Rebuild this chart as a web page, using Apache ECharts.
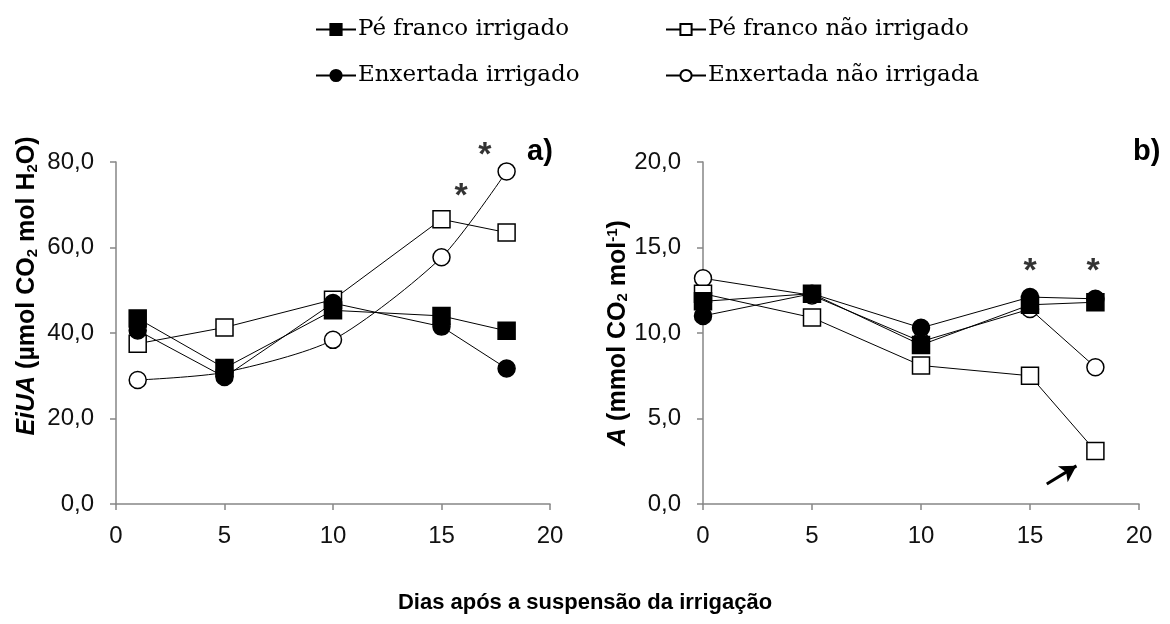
<!DOCTYPE html>
<html>
<head>
<meta charset="utf-8">
<script src="https://cdn.jsdelivr.net/npm/echarts@6/dist/echarts.min.js"></script>
<style>html,body{margin:0;padding:0;background:#fff}#c{width:1170px;height:624px}</style>
</head>
<body>
<div id="c"></div>
<script>
// ---- data ----
const daysA = [1, 5, 10, 15, 18];
const daysB = [0, 5, 10, 15, 18];
const seriesNames = ['Pé franco irrigado', 'Pé franco não irrigado', 'Enxertada irrigado', 'Enxertada não irrigada'];
// a) EiUA
const eiuaPFIrr   = [43.4, 31.8, 45.3, 44.0, 40.5];
const eiuaPFNao   = [37.5, 41.3, 47.8, 66.6, 63.5];
const eiuaEnxIrr  = [40.6, 29.7, 47.0, 41.5, 31.7];
const eiuaEnxNao  = [29.0, 30.8, 38.4, 57.7, 77.8];
// b) A
const aPFIrr  = [11.85, 12.3, 9.3, 11.65, 11.8];
const aPFNao  = [12.3, 10.9, 8.1, 7.5, 3.1];
const aEnxIrr = [11.0, 12.3, 10.3, 12.1, 12.0];
const aEnxNao = [13.2, 12.2, 9.5, 11.4, 8.0];
// annotations
const asterisksA = [[15.9, 73.9], [17.0, 83.6]];
const asterisksB = [[15.0, 14.1], [17.9, 14.1]];
const arrowB = [[15.77, 1.17], [17.13, 2.23]];
// ticks
const xTicks = ['0', '5', '10', '15', '20'];
const yTicksA = ['0,0', '20,0', '40,0', '60,0', '80,0'];
const yTicksB = ['0,0', '5,0', '10,0', '15,0', '20,0'];

const SANS = '"Liberation Sans", Arial, sans-serif';
const SERIF = '"DejaVu Serif", "Liberation Serif", serif';
const styles = [
  {symbol: 'rect', fill: '#000'},
  {symbol: 'rect', fill: '#fff'},
  {symbol: 'circle', fill: '#000'},
  {symbol: 'circle', fill: '#fff'}
];

function zip(xs, ys) { return xs.map((x, i) => [x, ys[i]]); }
function mk(k, xs, ys, gi, smooth, z) {
  return {
    type: 'line', name: seriesNames[k], xAxisIndex: gi, yAxisIndex: gi,
    data: zip(xs, ys), symbol: styles[k].symbol, symbolSize: 17, smooth: smooth || false,
    z: z,
    lineStyle: {color: '#000', width: 1},
    itemStyle: {color: styles[k].fill, borderColor: '#000', borderWidth: 1.5},
    emphasis: {disabled: true}, animation: false
  };
}

const axisCommon = {
  axisLine: {show: true, lineStyle: {color: '#868686', width: 1.5}},
  axisTick: {show: true, length: 6, lineStyle: {color: '#868686', width: 1.5}},
  splitLine: {show: false},
  axisLabel: {color: '#111', fontSize: 24, fontFamily: SANS}
};
function xAx(gi) {
  return Object.assign({}, axisCommon, {
    type: 'value', gridIndex: gi, min: 0, max: 20, interval: 5,
    axisLabel: Object.assign({}, axisCommon.axisLabel, {margin: 20, formatter: (v) => xTicks[v / 5]})
  });
}
function yAx(gi, max, interval, ticks, nameRich, gap, pad) {
  return Object.assign({}, axisCommon, {
    type: 'value', gridIndex: gi, min: 0, max: max, interval: interval,
    axisLabel: Object.assign({}, axisCommon.axisLabel, {margin: 22, formatter: (v) => ticks[Math.round(v / interval)]}),
    name: nameRich, nameLocation: 'middle', nameRotate: 90, nameGap: gap,
    nameTextStyle: {
      fontFamily: SANS, fontSize: 25, fontWeight: 'bold', color: '#000', padding: pad,
      rich: {
        i: {fontFamily: SANS, fontSize: 25, fontWeight: 'bold', fontStyle: 'italic', color: '#000'},
        b: {fontFamily: SANS, fontSize: 25, fontWeight: 'bold', color: '#000'},
        s: {fontFamily: SANS, fontSize: 15, fontWeight: 'bold', color: '#000', verticalAlign: 'bottom'},
        p: {fontFamily: SANS, fontSize: 15, fontWeight: 'bold', color: '#000', verticalAlign: 'top'}
      }
    }
  });
}

const series = [
  mk(3, daysA, eiuaEnxNao, 0, 0.25, 2),
  mk(1, daysA, eiuaPFNao, 0, false, 3),
  mk(2, daysA, eiuaEnxIrr, 0, false, 4),
  mk(0, daysA, eiuaPFIrr, 0, false, 5),
  mk(3, daysB, aEnxNao, 1, false, 2),
  mk(1, daysB, aPFNao, 1, false, 3),
  mk(2, daysB, aEnxIrr, 1, false, 4),
  mk(0, daysB, aPFIrr, 1, false, 5),
  {
    type: 'scatter', name: 'astA', xAxisIndex: 0, yAxisIndex: 0, data: asterisksA,
    symbolSize: 1, itemStyle: {color: 'rgba(0,0,0,0)'}, clip: false, silent: true,
    label: {show: true, position: 'inside', formatter: '*', fontSize: 34, fontWeight: 'bold', fontFamily: SANS, color: '#000', offset: [0, 9]}
  },
  {
    type: 'scatter', name: 'astB', xAxisIndex: 1, yAxisIndex: 1, data: asterisksB,
    symbolSize: 1, itemStyle: {color: 'rgba(0,0,0,0)'}, clip: false, silent: true,
    label: {show: true, position: 'inside', formatter: '*', fontSize: 34, fontWeight: 'bold', fontFamily: SANS, color: '#000', offset: [0, 9]},
    markLine: {
      silent: true, animation: false, symbol: ['none', 'arrow'], symbolSize: [14, 16],
      label: {show: false},
      lineStyle: {color: '#000', width: 3, type: 'solid'},
      data: [[{coord: arrowB[0]}, {coord: arrowB[1]}]]
    }
  }
];

function leg(name, left, top) {
  return {
    data: [name], left: left, top: top, itemWidth: 40, itemHeight: 14, itemGap: 0,
    selectedMode: false,
    textStyle: {fontFamily: SERIF, fontSize: 23, color: '#000', padding: [0, 0, 0, -3]}
  };
}

const option = {
  animation: false,
  backgroundColor: '#fff',
  legend: [
    leg(seriesNames[0], 310, 13),
    leg(seriesNames[1], 660, 13),
    leg(seriesNames[2], 310, 59),
    leg(seriesNames[3], 660, 59)
  ],
  grid: [
    {left: 116, top: 162, width: 434, height: 342},
    {left: 703, top: 162, width: 436, height: 342}
  ],
  xAxis: [xAx(0), xAx(1)],
  yAxis: [
    yAx(0, 80, 20, yTicksA, '{i|EiUA} {b|(µmol CO}{s|2}{b| mol H}{s|2}{b|O)}', 76, [0, 0, 0, 94]),
    yAx(1, 20, 5, yTicksB, '{i|A} {b|(mmol CO}{s|2}{b| mol}{p|-1}{b|)}', 66, [0, 0, 0, 0])
  ],
  graphic: [
    {type: 'text', left: 527, top: 137, style: {text: 'a)', font: 'bold 29px ' + SANS, fill: '#000'}},
    {type: 'text', left: 1133, top: 137, style: {text: 'b)', font: 'bold 29px ' + SANS, fill: '#000'}},
    {type: 'text', left: 'center', top: 592, style: {text: 'Dias após a suspensão da irrigação', font: 'bold 22px ' + SANS, fill: '#000'}}
  ],
  series: series
};
const chart = echarts.init(document.getElementById('c'), null, {renderer: 'canvas'});
chart.setOption(option);
</script>
</body>
</html>
